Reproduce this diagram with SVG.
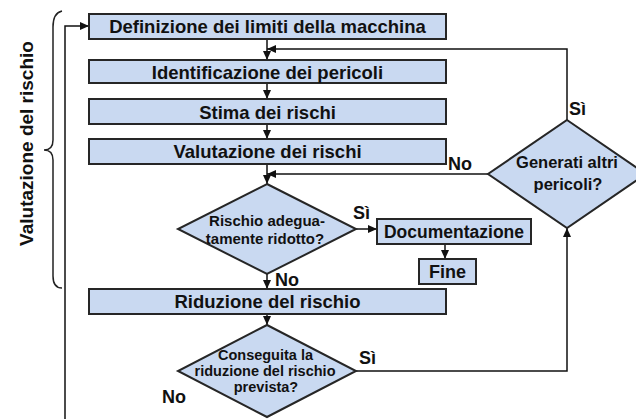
<svg xmlns="http://www.w3.org/2000/svg" width="636" height="419" viewBox="0 0 636 419">
<defs>
<marker id="ah" markerWidth="9" markerHeight="8" refX="9" refY="4" orient="auto" markerUnits="userSpaceOnUse"><path d="M0,0 L9,4 L0,8 Z" fill="#111"/></marker>
<style>
.box{fill:#C9D9F1;stroke:#262626;stroke-width:2}
.t{font-family:"Liberation Sans",Arial,sans-serif;font-weight:bold;fill:#111;text-anchor:middle}
.bt{font-size:18.5px}
.lb{font-family:"Liberation Sans",Arial,sans-serif;font-weight:bold;font-size:18px;fill:#111}
.c{fill:none;stroke:#111;stroke-width:1.5}
.ca{fill:none;stroke:#111;stroke-width:1.5;marker-end:url(#ah)}
</style>
</defs>
<rect width="636" height="419" fill="#ffffff"/>

<g id="brace">
<path d="M62,11 Q53,13 53,27 L53,140 Q53,150 44,150 Q53,150 53,160 L53,276 Q53,288 62,288" fill="none" stroke="#222" stroke-width="1.5"/>
<text class="t" font-size="19" transform="translate(33,143.5) rotate(-90)">Valutazione del rischio</text>
</g>

<g id="connectors">
<path class="ca" d="M267,39 V60"/>
<path class="ca" d="M567,120 V49 H267"/>
<path class="ca" d="M267,83 V99"/>
<path class="ca" d="M267,124 V139"/>
<path class="ca" d="M267,164 V184"/>
<path class="ca" d="M488,174 H267"/>
<path class="ca" d="M356,229 H377"/>
<path class="ca" d="M445,244 V259"/>
<path class="ca" d="M267,274 V289"/>
<path class="ca" d="M267,314 V325"/>
<path class="ca" d="M356,371 H567 V228"/>
<path class="ca" d="M65,419 V26 H89"/>
</g>

<g id="n-definizione">
<rect class="box" x="89" y="14" width="357" height="25"/>
<text class="t bt" x="267.5" y="33">Definizione dei limiti della macchina</text>
</g>
<g id="n-identificazione">
<rect class="box" x="89" y="60" width="357" height="23"/>
<text class="t bt" x="267.5" y="79">Identificazione dei pericoli</text>
</g>
<g id="n-stima">
<rect class="box" x="89" y="99" width="357" height="25"/>
<text class="t bt" x="267.5" y="118.5">Stima dei rischi</text>
</g>
<g id="n-valutazione">
<rect class="box" x="89" y="139" width="357" height="25"/>
<text class="t bt" x="267.5" y="158">Valutazione dei rischi</text>
</g>
<g id="n-rischio">
<polygon class="box" points="267,184 356,229 267,274 178,229"/>
<text class="t" font-size="15" x="267" y="226">Rischio adegua-</text>
<text class="t" font-size="15" x="265" y="244">tamente ridotto?</text>
</g>
<g id="n-documentazione">
<rect class="box" x="377" y="219" width="154" height="25"/>
<text class="t" font-size="17.5" x="454" y="238">Documentazione</text>
</g>
<g id="n-fine">
<rect class="box" x="419" y="259" width="57" height="25"/>
<text class="t" font-size="18" x="447.5" y="277.5">Fine</text>
</g>
<g id="n-riduzione">
<rect class="box" x="89" y="289" width="357" height="25"/>
<text class="t bt" x="267.5" y="308">Riduzione del rischio</text>
</g>
<g id="n-conseguita">
<polygon class="box" points="267,325 356,371 267,417 178,371"/>
<text class="t" font-size="14.5" x="265.5" y="360">Conseguita la</text>
<text class="t" font-size="14.5" x="265" y="376">riduzione del rischio</text>
<text class="t" font-size="14.5" x="266" y="392">prevista?</text>
</g>
<g id="n-generati">
<polygon class="box" points="567,120 646,174 567,228 488,174"/>
<text class="t" font-size="16.5" x="567" y="168">Generati altri</text>
<text class="t" font-size="16.5" x="568" y="190">pericoli?</text>
</g>

<g id="labels">
<text class="lb" x="569" y="115">Sì</text>
<text class="lb" x="448" y="170">No</text>
<text class="lb" x="353" y="219">Sì</text>
<text class="lb" x="275" y="286">No</text>
<text class="lb" x="359" y="364">Sì</text>
<text class="lb" x="162" y="403">No</text>
</g>
</svg>
